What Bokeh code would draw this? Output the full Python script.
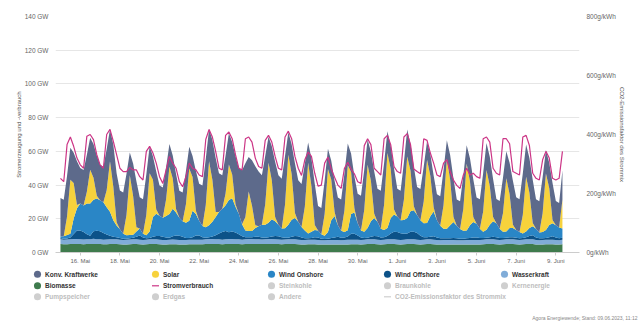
import pandas as pd
from bokeh.plotting import figure
from bokeh.models import (ColumnDataSource, Range1d, LinearAxis, FixedTicker,
                          PrintfTickFormatter)
from bokeh.core.properties import value
from bokeh.embed import file_html
from bokeh.resources import INLINE

# ---------------- data (GW, 4-hourly from 15.05.2023 00:00) ----------------
start_time = "2023-05-15 00:00"
step = "4h"

biomasse = [
    5.0, 4.9, 4.9, 5.0, 5.1, 5.1,  5.0, 4.9, 5.0, 5.0, 5.1, 5.0,
    5.0, 4.9, 4.9, 5.0, 5.0, 5.0,  4.9, 4.8, 4.8, 4.9, 5.0, 5.0,
    4.9, 4.8, 4.9, 5.0, 5.0, 5.0,  4.9, 4.8, 4.8, 4.9, 4.9, 4.9,
    4.8, 4.8, 4.8, 4.9, 4.9, 4.9,  4.9, 4.9, 5.0, 5.1, 5.1, 5.0,
    5.0, 4.9, 5.0, 5.1, 5.1, 5.0,  5.0, 4.9, 5.0, 5.1, 5.1, 5.1,
    5.0, 5.0, 5.0, 5.1, 5.1, 5.0,  5.0, 4.9, 5.0, 5.0, 5.0, 5.0,
    4.9, 4.8, 4.8, 4.9, 4.9, 4.9,  4.8, 4.7, 4.7, 4.8, 4.8, 4.8,
    4.8, 4.7, 4.8, 4.8, 4.9, 4.9,  4.9, 4.8, 4.9, 5.0, 5.0, 5.0,
    4.9, 4.8, 4.9, 5.0, 5.0, 5.0,  4.9, 4.8, 4.9, 5.0, 5.0, 5.0,
    4.9, 4.8, 4.9, 5.0, 5.0, 4.9,  4.8, 4.7, 4.8, 4.8, 4.8, 4.8,
    4.7, 4.7, 4.7, 4.8, 4.8, 4.8,  4.8, 4.8, 4.9, 5.0, 5.0, 5.0,
    4.9, 4.8, 4.9, 5.0, 5.0, 5.0,  4.9, 4.8, 4.9, 5.0, 5.0, 5.0,
    4.8, 4.7, 4.8, 4.9, 4.9, 4.9,  4.8, 4.7, 4.9,
]
wasserkraft = [
    2.8, 2.7, 2.8, 2.9, 2.9, 2.9,  2.9, 2.8, 2.8, 2.9, 3.0, 2.9,
    2.8, 2.7, 2.8, 2.9, 2.9, 2.8,  2.7, 2.6, 2.7, 2.8, 2.8, 2.8,
    2.7, 2.6, 2.7, 2.8, 2.9, 2.8,  2.7, 2.6, 2.6, 2.7, 2.8, 2.7,
    2.6, 2.6, 2.6, 2.7, 2.7, 2.7,  2.7, 2.6, 2.8, 2.9, 2.9, 2.8,
    2.8, 2.7, 2.8, 2.9, 2.9, 2.9,  2.8, 2.7, 2.8, 2.9, 2.9, 2.8,
    2.8, 2.7, 2.8, 2.9, 2.9, 2.8,  2.7, 2.6, 2.7, 2.8, 2.8, 2.8,
    2.7, 2.6, 2.6, 2.7, 2.7, 2.7,  2.6, 2.5, 2.5, 2.6, 2.6, 2.6,
    2.6, 2.5, 2.6, 2.7, 2.7, 2.7,  2.7, 2.6, 2.7, 2.8, 2.8, 2.8,
    2.7, 2.6, 2.7, 2.8, 2.8, 2.8,  2.7, 2.6, 2.7, 2.8, 2.8, 2.8,
    2.7, 2.6, 2.7, 2.8, 2.8, 2.7,  2.6, 2.5, 2.6, 2.6, 2.6, 2.6,
    2.5, 2.5, 2.5, 2.6, 2.6, 2.6,  2.6, 2.6, 2.7, 2.8, 2.8, 2.8,
    2.7, 2.6, 2.7, 2.8, 2.8, 2.8,  2.7, 2.6, 2.7, 2.8, 2.8, 2.8,
    2.6, 2.5, 2.6, 2.7, 2.7, 2.7,  2.6, 2.5, 2.7,
]
wind_offshore = [
    0.8, 0.6, 0.6, 1.0, 3.0, 5.0,  5.2, 4.5, 3.0, 2.0, 4.5, 5.0,
    4.8, 4.0, 3.0, 2.0, 1.5, 1.2,  1.0, 0.8, 0.7, 0.7, 1.0, 1.5,
    2.5, 1.5, 0.8, 0.8, 1.5, 2.0,  2.2, 2.0, 1.5, 1.2, 2.0, 2.5,
    2.5, 2.0, 1.2, 1.0, 1.5, 2.5,  2.5, 1.5, 1.0, 1.0, 1.5, 2.5,
    3.5, 4.5, 5.0, 4.0, 4.5, 4.0,  3.0, 2.0, 1.2, 1.0, 1.0, 1.5,
    1.5, 1.2, 1.0, 1.0, 1.5, 2.0,  2.0, 1.5, 1.0, 1.0, 1.5, 2.0,
    2.0, 1.5, 1.0, 0.8, 1.0, 1.5,  1.5, 1.0, 0.8, 0.8, 1.2, 1.5,
    2.0, 1.5, 1.5, 2.0, 3.5, 3.5,  2.5, 1.5, 1.0, 1.0, 1.5, 2.0,
    2.0, 1.5, 1.5, 2.0, 3.5, 4.5,  4.5, 4.0, 3.5, 3.5, 4.5, 4.5,
    4.0, 2.5, 1.5, 1.2, 1.5, 2.0,  1.5, 1.2, 1.0, 1.0, 1.0, 1.2,
    1.2, 1.0, 1.0, 1.0, 1.2, 1.5,  1.5, 1.2, 1.0, 1.0, 1.2, 1.5,
    1.5, 1.2, 1.0, 1.0, 1.2, 1.2,  1.2, 1.0, 1.0, 1.2, 2.0, 2.5,
    1.5, 1.2, 1.0, 1.0, 1.5, 2.0,  1.5, 1.2, 1.2,
]
wind_onshore = [
    0.9, 1.4, 2.1, 2.2, 9.2, 13.2,  16.0, 15.7, 18.2, 19.2, 18.7, 19.2,
    18.4, 18.2, 16.2, 14.2, 9.7, 7.0,  5.2, 2.9, 2.0, 2.0, 1.7, 3.2,
    4.2, 2.2, 1.9, 3.9, 11.7, 13.2,  12.0, 11.2, 12.7, 14.0, 16.2, 13.7,
    10.7, 9.2, 9.0, 10.2, 15.7, 12.7,  8.7, 6.7, 6.2, 7.2, 8.7, 10.7,
    12.7, 13.7, 15.2, 19.2, 19.7, 15.2,  12.2, 7.2, 4.0, 3.7, 3.7, 5.2,
    6.2, 7.5, 7.7, 8.7, 10.2, 8.7,  6.7, 5.2, 5.7, 7.7, 10.2, 10.7,
    8.7, 6.2, 4.7, 2.9, 3.7, 4.2,  4.2, 2.7, 1.9, 3.9, 10.5, 12.7,
    6.7, 4.2, 3.2, 3.7, 11.7, 12.7,  7.2, 4.2, 3.7, 5.7, 9.2, 10.7,
    8.7, 5.2, 4.2, 4.7, 9.2, 10.2,  9.2, 7.7, 8.2, 9.2, 12.2, 12.7,
    10.7, 9.2, 8.2, 8.5, 12.2, 14.7,  10.2, 7.5, 5.7, 5.7, 7.7, 9.5,
    7.5, 5.7, 4.7, 4.7, 7.5, 9.2,  8.2, 5.5, 3.7, 4.7, 7.5, 9.2,
    8.2, 5.5, 3.7, 3.7, 5.5, 5.5,  4.5, 3.7, 2.7, 3.5, 4.7, 5.2,
    5.2, 3.5, 3.7, 4.7, 7.2, 7.7,  7.2, 6.5, 5.5,
]
solar = [
    0, 0, 11, 32, 21, 2,  0, 0, 7, 20, 13, 1.5,
    0, 0, 10, 30, 20, 2,  0, 0, 12, 35.5, 23, 2.5,
    0, 0, 12, 34.5, 22, 2.5,  0, 0, 10, 28, 18, 2,
    0, 0, 11, 31, 20, 2,  0, 0, 13, 38, 25, 3,
    0, 0, 7, 21, 14, 1.5,  0, 0, 8, 23.5, 15, 1.5,
    0, 0, 12, 35.5, 23, 2.5,  0, 0, 14, 41.5, 27, 3,
    0, 0, 14, 42, 27, 3,  0, 0, 13, 37.5, 24, 2.5,
    0, 0, 13, 38.5, 25, 2.5,  0, 0, 13, 37.5, 24, 2.5,
    0, 0, 15, 44.5, 29, 3,  0, 0, 12, 36.5, 24, 2.5,
    0, 0, 13, 37.5, 24, 2.5,  0, 0, 14, 41.5, 27, 3,
    0, 0, 13, 39.5, 26, 3,  0, 0, 12, 35.5, 23, 2.5,
    0, 0, 11, 31.5, 20, 2,  0, 0, 11, 32.5, 21, 2,
    0, 0, 11, 33.5, 22, 2,  0, 0, 17,
]
konv_kraftwerke = [
    22.8, 21.7, 24.2, 19.0, 18.0, 26.0,  21.0, 21.0, 22.0, 19.0, 20.0, 24.0,
    21.0, 21.0, 24.5, 19.0, 25.0, 29.0,  23.0, 24.5, 24.5, 13.4, 19.3, 27.2,
    18.5, 20.5, 24.0, 16.0, 14.0, 22.5,  18.0, 18.0, 19.0, 13.6, 13.7, 20.7,
    16.0, 17.0, 19.7, 13.0, 12.5, 23.7,  22.0, 24.0, 27.4, 19.0, 23.5, 32.0,
    23.0, 20.0, 22.6, 18.5, 19.4, 28.7,  27.0, 32.0, 32.0, 20.4, 27.0, 35.0,
    32.5, 29.5, 28.7, 15.5, 20.4, 32.9,  29.5, 29.5, 28.9, 13.3, 17.7, 29.4,
    24.5, 25.5, 25.5, 12.0, 16.5, 24.5,  14.5, 15.5, 19.8, 12.0, 11.3, 18.5,
    16.5, 18.5, 21.9, 13.0, 11.0, 19.0,  17.5, 20.5, 23.9, 15.0, 17.3, 25.2,
    19.5, 22.5, 24.8, 12.9, 13.9, 24.4,  16.5, 17.5, 22.2, 15.9, 15.9, 23.4,
    16.5, 18.5, 20.7, 11.0, 12.8, 18.9,  15.5, 17.5, 20.9, 11.0, 14.8, 22.8,
    15.5, 16.5, 19.9, 11.0, 13.8, 22.4,  15.5, 17.5, 22.9, 16.0, 17.3, 22.6,
    14.5, 16.5, 21.1, 16.0, 18.8, 26.0,  19.5, 19.5, 24.5, 19.0, 20.5, 25.7,
    17.5, 18.5, 21.5, 14.0, 15.0, 22.0,  14.5, 14.5, 17.5,
]
stromverbrauch = [
    44, 42, 64, 68.5, 63, 56,  52, 50, 69, 70, 67, 58,
    52, 50, 70, 73, 66, 58,  50, 48, 48, 50.5, 49, 49,
    45, 43, 60, 63, 59, 53,  45, 41, 49, 57, 53, 50,
    42, 39, 45, 53, 50, 49,  46, 45, 67, 73, 68.5, 60,
    50, 49, 69.5, 71.5, 67.5, 58,  50, 49, 67.5, 68.5, 65.5, 56,
    51, 50, 66.5, 69.5, 65.5, 57,  50, 49, 68.5, 72, 67.5, 57,
    50, 45.7, 55, 59.6, 57, 47,  39.4, 40, 53, 56.6, 49.5, 44.6,
    40, 38, 50, 53.5, 49.5, 46.7,  42, 41, 63.4, 67.5, 64, 50,
    48, 46, 67.5, 69.5, 64, 51,  48, 47, 68.5, 70.5, 64, 49.5,
    48, 46.7, 67.5, 66.5, 59, 53,  46, 45, 53, 55, 48, 43,
    39.8, 38, 46, 50, 46, 47,  45, 44, 67.5, 68.5, 65.5, 50,
    47, 46, 67.5, 67.5, 64.5, 48,  47, 46, 68.5, 69.5, 63.5, 47,
    44, 43, 55, 60, 56, 44,  43, 44, 60,
]

y_ticks_gw = [0, 20, 40, 60, 80, 100, 120, 140]
y_ticks_co2 = [0, 200, 400, 600, 800]
x_tick_dates = ["2023-05-16", "2023-05-18", "2023-05-20", "2023-05-22", "2023-05-24",
                "2023-05-26", "2023-05-28", "2023-05-30", "2023-06-01", "2023-06-03",
                "2023-06-05", "2023-06-07", "2023-06-09"]
x_tick_labels = ["16. Mai", "18. Mai", "20. Mai", "22. Mai", "24. Mai", "26. Mai",
                 "28. Mai", "30. Mai", "1. Juni", "3. Juni", "5. Juni", "7. Juni", "9. Juni"]

series_names = ["Biomasse", "Wasserkraft", "Wind Offshore", "Wind Onshore", "Solar", "Konv. Kraftwerke"]
series_colors = ["#3f7b4d", "#80acd8", "#0c5288", "#2a86c6", "#f7d23c", "#5d6a8b"]
load_color = "#cc3586"

legend_labels = ["Konv. Kraftwerke", "Solar", "Wind Onshore", "Wind Offshore", "Wasserkraft",
                 "Biomasse", "Stromverbrauch", "Steinkohle", "Braunkohle", "Kernenergie",
                 "Pumpspeicher", "Erdgas", "Andere", "CO2-Emissionsfaktor des Strommix"]
legend_colors = ["#5d6a8b", "#f7d23c", "#2a86c6", "#0c5288", "#80acd8",
                 "#3f7b4d", load_color, "#cfcfcf", "#cfcfcf", "#cfcfcf",
                 "#cfcfcf", "#cfcfcf", "#cfcfcf", "#cfcfcf"]
legend_active = [True, True, True, True, True, True, True, False, False, False,
                 False, False, False, False]
legend_is_line = [False, False, False, False, False, False, True, False, False, False,
                  False, False, False, True]
footer_text = "Agora Energiewende; Stand: 09.06.2023, 11:12"

# ---------------- chart ----------------
FONT = "Liberation Sans"
n = min(len(biomasse), len(wasserkraft), len(wind_offshore), len(wind_onshore),
        len(solar), len(konv_kraftwerke), len(stromverbrauch))
t = pd.date_range(start_time, periods=n, freq=step)
src = ColumnDataSource(dict(
    t=t, bio=biomasse[:n], hydro=wasserkraft[:n], off=wind_offshore[:n],
    on=wind_onshore[:n], sol=solar[:n], konv=konv_kraftwerke[:n], load=stromverbrauch[:n],
))

FL, FR, FT, FB = 55, 61, 16, 70          # borders -> frame 55..579 x 16..252
W, H = 640, 322
p = figure(width=W, height=H, x_axis_type="datetime",
           x_range=Range1d(pd.Timestamp("2023-05-14 18:00"), pd.Timestamp("2023-06-10 04:40")),
           y_range=Range1d(0, 140),
           output_backend="svg", toolbar_location=None,
           min_border_left=FL, min_border_right=FR, min_border_top=FT, min_border_bottom=FB)
p.outline_line_color = None
p.background_fill_color = "white"
p.border_fill_color = "white"
p.xgrid.visible = False
p.ygrid.grid_line_color = "#e6e6e6"
p.ygrid.grid_line_width = 1

p.varea_stack(stackers=["bio", "hydro", "off", "on", "sol", "konv"], x="t",
              color=series_colors, source=src)
p.line("t", "load", source=src, line_color=load_color, line_width=1.2)

# left axis
ya = p.yaxis[0]
ya.ticker = FixedTicker(ticks=y_ticks_gw)
ya.formatter = PrintfTickFormatter(format="%d GW")
ya.axis_line_color = None
ya.major_tick_line_color = None
ya.major_tick_in = 0
ya.major_tick_out = 0
ya.minor_tick_line_color = None
ya.major_label_standoff = 7
ya.major_label_text_font = FONT
ya.major_label_text_font_size = "6.5px"
ya.major_label_text_color = "#666666"
ya.axis_label = "Stromerzeugung und -verbrauch"
ya.axis_label_text_font = FONT
ya.axis_label_text_font_size = "6px"
ya.axis_label_text_font_style = "normal"
ya.axis_label_text_color = "#555555"
ya.axis_label_standoff = 0

# right axis
p.extra_y_ranges = {"co2": Range1d(0, 800), "px": Range1d(H - FB, FT)}
p.extra_x_ranges = {"px": Range1d(FL, W - FR)}
ra = LinearAxis(y_range_name="co2", ticker=FixedTicker(ticks=y_ticks_co2),
                formatter=PrintfTickFormatter(format="%dg/kWh"))
ra.axis_line_color = None
ra.major_tick_line_color = None
ra.major_tick_in = 0
ra.major_tick_out = 0
ra.minor_tick_line_color = None
ra.major_label_standoff = 7
ra.major_label_text_font = FONT
ra.major_label_text_font_size = "6.5px"
ra.major_label_text_color = "#666666"
ra.axis_label = "CO2-Emissionsfaktor des Strommix"
ra.axis_label_text_font = FONT
ra.axis_label_text_font_size = "6px"
ra.axis_label_text_font_style = "normal"
ra.axis_label_text_color = "#555555"
ra.axis_label_standoff = 0
p.add_layout(ra, "right")

# x axis
xa = p.xaxis[0]
tick_ms = [int(pd.Timestamp(d).value // 10**6) for d in x_tick_dates]
xa.ticker = FixedTicker(ticks=tick_ms)
xa.major_label_overrides = {ms: lab for ms, lab in zip(tick_ms, x_tick_labels)}
xa.axis_line_color = "#cccccc"
xa.major_tick_line_color = "#cccccc"
xa.major_tick_in = 0
xa.major_tick_out = 3
xa.minor_tick_line_color = None
xa.major_label_standoff = 2
xa.major_label_text_font = FONT
xa.major_label_text_font_size = "6px"
xa.major_label_text_color = "#666666"

# ---------------- legend + footer (page-pixel coordinates, unclipped) ----------------
col_x = [37, 155, 271, 387, 504]
row_y = [273.7, 285.3, 296.3]
dx0, dx1, dy, dc = [], [], [], []       # round dots
lx0, lx1, ly, lc = [], [], [], []       # short lines
tx, ty, tt, tcol = [], [], [], []
for i, lab in enumerate(legend_labels):
    cx = col_x[i % 5]
    cy = row_y[i // 5]
    if legend_is_line[i]:
        lx0.append(cx - 3.5); lx1.append(cx + 3.5); ly.append(cy); lc.append(legend_colors[i])
    else:
        dx0.append(cx - 0.05); dx1.append(cx + 0.05); dy.append(cy); dc.append(legend_colors[i])
    tx.append(cx + 7.5); ty.append(cy); tt.append(lab)
    tcol.append("#333333" if legend_active[i] else "#bdbdbd")

kw = dict(x_range_name="px", y_range_name="px", level="overlay")
p.segment(dx0, dy, dx1, dy, line_color=dc, line_width=7, line_cap="round", **kw)
p.segment(lx0, ly, lx1, ly, line_color=lc, line_width=1.2, **kw)
lsrc = ColumnDataSource(dict(x=tx, y=ty, text=tt, color=tcol))
p.text("x", "y", text="text", source=lsrc, text_color="color",
       text_font=value(FONT), text_font_size="6.5px", text_font_style="bold",
       text_baseline="middle", text_align="left", **kw)
p.text([637], [317], text=[footer_text],
       text_font=value(FONT), text_font_size="5px", text_color="#888888",
       text_baseline="middle", text_align="right", **kw)

open("out.html", "w").write(file_html(p, INLINE))
